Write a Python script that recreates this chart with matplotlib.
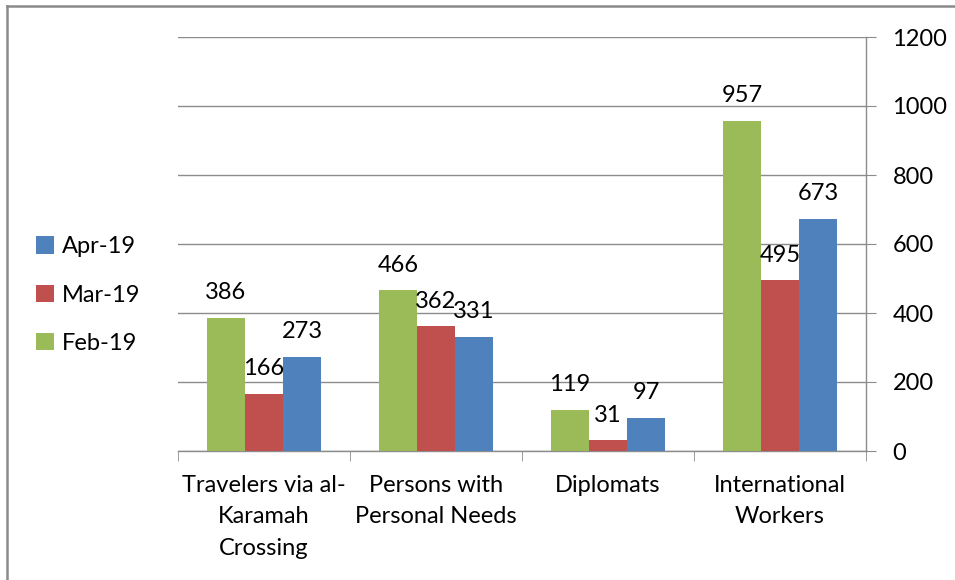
import matplotlib.pyplot as plt
import numpy as np
from matplotlib.lines import Line2D

categories = ['Travelers via al-\nKaramah\nCrossing', 'Persons with\nPersonal Needs',
              'Diplomats', 'International\nWorkers']
series_names = ['Feb-19', 'Mar-19', 'Apr-19']
feb_19 = [386, 466, 119, 957]
mar_19 = [166, 362, 31, 495]
apr_19 = [273, 331, 97, 673]
y_ticks = [0, 200, 400, 600, 800, 1000, 1200]

COLORS = ['#9BBB59', '#C0504D', '#4F81BD']
GRID = '#8c8c8c'
FONT = 'Lato'
FS = 17

plt.rcParams['font.family'] = FONT

W, H = 955, 580
fig = plt.figure(figsize=(W / 100, H / 100), dpi=100)
ax = fig.add_axes([178 / W, 1 - 451 / H, (866 - 178) / W, (451 - 37) / H])

x = np.arange(len(categories))
bar_w = 0.221
bars = []
for i, (vals, name) in enumerate(zip([feb_19, mar_19, apr_19], series_names)):
    b = ax.bar(x + (i - 1) * bar_w, vals, bar_w, color=COLORS[i], label=name, zorder=3)
    bars.append(b)
    for xi, v in zip(x + (i - 1) * bar_w, vals):
        ax.annotate(str(v), (xi, v), xytext=(0, 18), textcoords='offset points',
                    ha='center', va='center', fontsize=FS, color='black', zorder=4)

ax.set_xlim(-0.5, len(categories) - 0.5)
ax.set_ylim(0, 1200)
ax.set_yticks(y_ticks)
ax.yaxis.tick_right()
ax.tick_params(axis='y', length=7, color=GRID, labelsize=FS, pad=12)
for lbl in ax.get_yticklabels():
    lbl.set_horizontalalignment('left')
ax.grid(axis='y', color=GRID, linewidth=1, zorder=0)

ax.set_xticks(x)
ax.set_xticklabels(categories, fontsize=FS, linespacing=1.62)
ax.tick_params(axis='x', which='major', length=0, pad=17)
ax.set_xticks(np.arange(-0.5, len(categories)), minor=True)
ax.tick_params(axis='x', which='minor', length=7, color=GRID)

for side in ['left', 'top']:
    ax.spines[side].set_visible(False)
for side in ['right', 'bottom']:
    ax.spines[side].set_color(GRID)
    ax.spines[side].set_linewidth(1)

# legend, reversed order like the original
handles = [bars[2], bars[1], bars[0]]
fig.legend(handles, [series_names[2], series_names[1], series_names[0]],
           loc='center left', bbox_to_anchor=(15 / W, 1 - 295 / H), frameon=False,
           fontsize=FS, handlelength=0.75, handleheight=0.75, handletextpad=0.35,
           labelspacing=1.15)

# outer border of the chart
fig.add_artist(Line2D([7 / W, 7 / W], [0, 1 - 6 / H], color='#8a8a8a', lw=1.8,
                      transform=fig.transFigure))
fig.add_artist(Line2D([7 / W, 1], [1 - 6 / H, 1 - 6 / H], color='#8a8a8a', lw=1.8,
                      transform=fig.transFigure))

fig.savefig('out.png', dpi=100)
